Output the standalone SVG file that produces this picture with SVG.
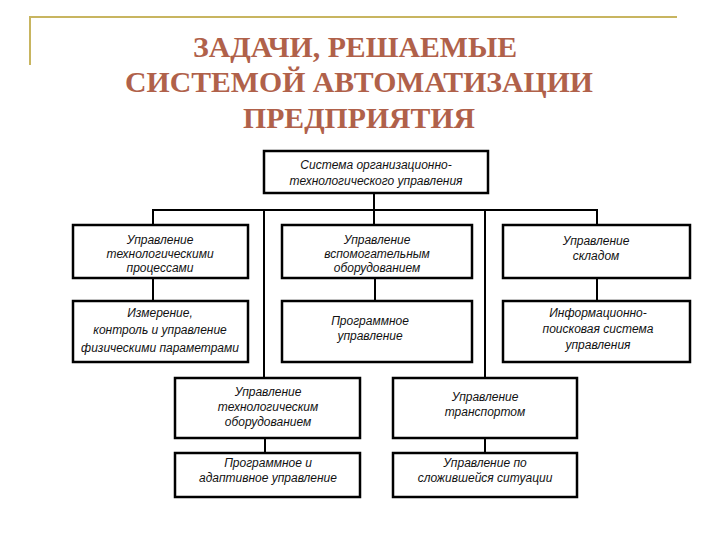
<svg xmlns="http://www.w3.org/2000/svg" width="720" height="540" viewBox="0 0 720 540">
<style>
.title{font-family:"Liberation Serif","Times New Roman",serif;font-weight:bold;font-size:30px;fill:#b0614a;text-anchor:middle}
.box{fill:#fff;stroke:#000;stroke-width:2.5}
.lbl{font-family:"Liberation Sans",Arial,sans-serif;font-style:italic;font-size:12px;fill:#111;text-anchor:middle}
.ln{stroke:#000;stroke-width:2;fill:none}
</style>
<rect width="720" height="540" fill="#fff"/>
<path d="M30 65 V17 H677" stroke="#c8b560" stroke-width="2" fill="none"/>
<text class="title" x="355" y="57" textLength="324" lengthAdjust="spacingAndGlyphs">ЗАДАЧИ, РЕШАЕМЫЕ</text>
<text class="title" x="359" y="92" textLength="468" lengthAdjust="spacingAndGlyphs">СИСТЕМОЙ АВТОМАТИЗАЦИИ</text>
<text class="title" x="359" y="128" textLength="232" lengthAdjust="spacingAndGlyphs">ПРЕДПРИЯТИЯ</text>
<g id="connectors">
<path class="ln" d="M374 193 V225"/>
<path class="ln" d="M153 225 V210 H597 V225"/>
<path class="ln" d="M264 210 V378"/>
<path class="ln" d="M485 210 V378"/>
<path class="ln" d="M153 278 V301"/>
<path class="ln" d="M375 278 V301"/>
<path class="ln" d="M597 278 V301"/>
<path class="ln" d="M265 438 V453"/>
<path class="ln" d="M485 438 V453"/>
</g>
<g id="n0"><rect class="box" x="264" y="151" width="224" height="42"/>
<text class="lbl" x="376" y="169">Система организационно-</text>
<text class="lbl" x="376" y="185">технологического управления</text></g>
<g id="n1"><rect class="box" x="73" y="225" width="175" height="53"/>
<text class="lbl" x="160" y="244">Управление</text>
<text class="lbl" x="160" y="258">технологическими</text>
<text class="lbl" x="160" y="272">процессами</text></g>
<g id="n2"><rect class="box" x="282" y="225" width="190" height="53"/>
<text class="lbl" x="377" y="244">Управление</text>
<text class="lbl" x="377" y="258">вспомогательным</text>
<text class="lbl" x="377" y="272">оборудованием</text></g>
<g id="n3"><rect class="box" x="503" y="225" width="187" height="53"/>
<text class="lbl" x="596" y="245">Управление</text>
<text class="lbl" x="596" y="260">складом</text></g>
<g id="n4"><rect class="box" x="73" y="301" width="175" height="61"/>
<text class="lbl" x="160" y="317">Измерение,</text>
<text class="lbl" x="160" y="334">контроль и управление</text>
<text class="lbl" x="160" y="352">физическими параметрами</text></g>
<g id="n5"><rect class="box" x="282" y="301" width="190" height="61"/>
<text class="lbl" x="370" y="325">Программное</text>
<text class="lbl" x="370" y="340">управление</text></g>
<g id="n6"><rect class="box" x="503" y="301" width="187" height="61"/>
<text class="lbl" x="598" y="317">Информационно-</text>
<text class="lbl" x="598" y="333">поисковая система</text>
<text class="lbl" x="598" y="349">управления</text></g>
<g id="n7"><rect class="box" x="175" y="378" width="185" height="60"/>
<text class="lbl" x="268" y="396">Управление</text>
<text class="lbl" x="268" y="411">технологическим</text>
<text class="lbl" x="268" y="426">оборудованием</text></g>
<g id="n8"><rect class="box" x="393" y="378" width="184" height="60"/>
<text class="lbl" x="485" y="401">Управление</text>
<text class="lbl" x="485" y="416">транспортом</text></g>
<g id="n9"><rect class="box" x="175" y="453" width="185" height="44"/>
<text class="lbl" x="268" y="467">Программное и</text>
<text class="lbl" x="268" y="482">адаптивное управление</text></g>
<g id="n10"><rect class="box" x="393" y="453" width="184" height="44"/>
<text class="lbl" x="485" y="467">Управление по</text>
<text class="lbl" x="485" y="482">сложившейся ситуации</text></g>
</svg>
